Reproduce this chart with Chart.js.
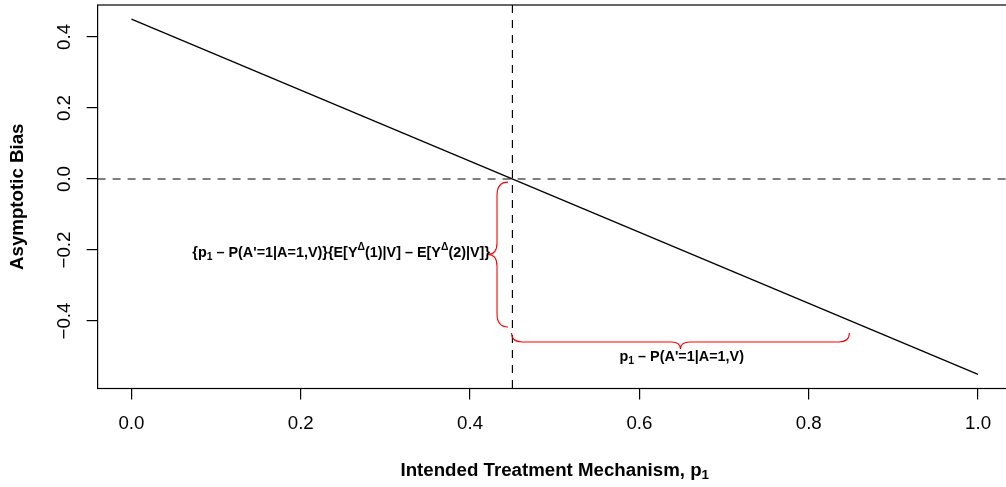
<!DOCTYPE html>
<html>
<head>
<meta charset="utf-8">
<script src="https://cdn.jsdelivr.net/npm/chart.js@4.4.1/dist/chart.umd.min.js"></script>
<style>
  html, body { margin: 0; padding: 0; background: #ffffff; overflow: hidden; }
  #wrap { width: 1020px; height: 487px; }
</style>
</head>
<body>
<div id="wrap"><canvas id="c" width="1020" height="487"></canvas></div>
<script>
// ---- data ----
const xValues = [0, 1];
const biasValues = [0.45, -0.55];
const xTicks = [0, 0.2, 0.4, 0.6, 0.8, 1.0];
const yTicks = [-0.4, -0.2, 0, 0.2, 0.4];
const xRange = [-0.04, 1.04];
const yRange = [-0.59, 0.49];
const refX = [0.45];
const refY = [0];
// vertical brace: x of ends, y top, y bottom, x of spine, x of tip
const vBrace = [0.4448, -0.0087, -0.4169, 0.4318, 0.4211];
// horizontal brace: y of ends, x left, x right, y of spine, y of tip
const hBrace = [-0.4338, 0.449, 0.848, -0.459, -0.479];
// annotation labels: [x, y(baseline)]
const label1Pos = [0.4235, -0.2206];
const label2Pos = [0.65, -0.5118];
const label1Parts = [
  {t: '{p'}, {t: '1', sub: true}, {t: ' \u2013 P(A\'=1|A=1,V)}{E[Y'}, {t: '\u0394', sup: true},
  {t: '(1)|V] \u2013 E[Y'}, {t: '\u0394', sup: true}, {t: '(2)|V]}'}
];
const label2Parts = [{t: 'p'}, {t: '1', sub: true}, {t: ' \u2013 P(A\'=1|A=1,V)'}];
const xTitleParts = [{t: 'Intended Treatment Mechanism, p'}, {t: '1', sub: true}];
const yTitle = 'Asymptotic Bias';

const FONT = '"Liberation Sans", Arial, Helvetica, sans-serif';

function drawRich(ctx, parts, x, y, align, size) {
  const fontN = 'bold ' + size + 'px ' + FONT;
  const fontS = 'bold ' + (size * 0.72) + 'px ' + FONT;
  let w = 0;
  const widths = parts.map(p => {
    ctx.font = (p.sub || p.sup) ? fontS : fontN;
    const m = ctx.measureText(p.t).width;
    w += m;
    return m;
  });
  let cx = align === 'right' ? x - w : (align === 'center' ? x - w / 2 : x);
  ctx.textAlign = 'left';
  ctx.textBaseline = 'alphabetic';
  parts.forEach((p, i) => {
    ctx.font = (p.sub || p.sup) ? fontS : fontN;
    const dy = p.sub ? 0.2 * size : (p.sup ? -0.5 * size : 0);
    ctx.fillText(p.t, cx, y + dy);
    cx += widths[i];
  });
}

function braceV(ctx, xs, ys, b) {
  const E = xs.getPixelForValue(b[0]);
  const Y1 = ys.getPixelForValue(b[1]);
  const Y2 = ys.getPixelForValue(b[2]);
  const S = xs.getPixelForValue(b[3]);
  const T = xs.getPixelForValue(b[4]);
  const Ym = (Y1 + Y2) / 2;
  const r1 = 1.2 * Math.abs(E - S);
  const r2 = 1.3 * Math.abs(S - T);
  ctx.beginPath();
  ctx.moveTo(E, Y1);
  ctx.quadraticCurveTo(S, Y1, S, Y1 + r1);
  ctx.lineTo(S, Ym - r2);
  ctx.quadraticCurveTo(S, Ym, T, Ym);
  ctx.quadraticCurveTo(S, Ym, S, Ym + r2);
  ctx.lineTo(S, Y2 - r1);
  ctx.quadraticCurveTo(S, Y2, E, Y2);
  ctx.stroke();
}

function braceH(ctx, xs, ys, b) {
  const E = ys.getPixelForValue(b[0]);
  const X1 = xs.getPixelForValue(b[1]);
  const X2 = xs.getPixelForValue(b[2]);
  const S = ys.getPixelForValue(b[3]);
  const T = ys.getPixelForValue(b[4]);
  const Xm = (X1 + X2) / 2;
  const r1 = 1.2 * Math.abs(E - S);
  const r2 = 1.3 * Math.abs(S - T);
  ctx.beginPath();
  ctx.moveTo(X1, E);
  ctx.quadraticCurveTo(X1, S, X1 + r1, S);
  ctx.lineTo(Xm - r2, S);
  ctx.quadraticCurveTo(Xm, S, Xm, T);
  ctx.quadraticCurveTo(Xm, S, Xm + r2, S);
  ctx.lineTo(X2 - r1, S);
  ctx.quadraticCurveTo(X2, S, X2, E);
  ctx.stroke();
}

const decorPlugin = {
  id: 'decor',
  beforeDatasetsDraw(chart) {
    const {ctx, chartArea: a, scales: {x, y}} = chart;
    ctx.save();
    ctx.beginPath();
    ctx.rect(a.left, a.top, a.right - a.left, a.bottom - a.top);
    ctx.clip();
    ctx.strokeStyle = '#000';
    ctx.lineWidth = 1.2;
    ctx.setLineDash([8, 7]);
    refX.forEach(v => {
      const px = x.getPixelForValue(v);
      ctx.beginPath(); ctx.moveTo(px, a.top); ctx.lineTo(px, a.bottom); ctx.stroke();
    });
    refY.forEach(v => {
      const py = y.getPixelForValue(v);
      ctx.beginPath(); ctx.moveTo(a.left, py); ctx.lineTo(a.right, py); ctx.stroke();
    });
    ctx.restore();
  },
  afterDraw(chart) {
    const {ctx, chartArea: a, scales: {x, y}} = chart;
    ctx.save();
    ctx.strokeStyle = '#000';
    ctx.lineWidth = 1.2;
    ctx.setLineDash([]);
    ctx.strokeRect(a.left, a.top, a.right - a.left, a.bottom - a.top);
    ctx.strokeStyle = '#ff0000';
    ctx.lineWidth = 1.1;
    braceV(ctx, x, y, vBrace);
    braceH(ctx, x, y, hBrace);
    ctx.fillStyle = '#000';
    drawRich(ctx, label1Parts, x.getPixelForValue(label1Pos[0]), y.getPixelForValue(label1Pos[1]), 'right', 14.4);
    drawRich(ctx, label2Parts, x.getPixelForValue(label2Pos[0]), y.getPixelForValue(label2Pos[1]), 'center', 14.4);
    drawRich(ctx, xTitleParts, (x.left + x.right) / 2, x.bottom - 11.5, 'center', 18.7);
    ctx.restore();
  }
};

const tickFont = {family: FONT, size: 18.7, lineHeight: 1.2};

new Chart(document.getElementById('c'), {
  type: 'scatter',
  data: {
    datasets: [{
      data: xValues.map((v, i) => ({x: v, y: biasValues[i]})),
      showLine: true,
      borderColor: '#000',
      borderWidth: 1.3,
      pointRadius: 0,
      fill: false
    }]
  },
  options: {
    responsive: false,
    animation: false,
    devicePixelRatio: 1,
    layout: {padding: {top: 5, right: 8.1, left: 0, bottom: 0}},
    plugins: {legend: {display: false}, tooltip: {enabled: false}},
    scales: {
      x: {
        type: 'linear',
        min: xRange[0], max: xRange[1],
        afterBuildTicks: s => { s.ticks = xTicks.map(v => ({value: v})); },
        afterFit: s => { s.height = 98.5; s.paddingLeft = 0; s.paddingRight = 0; },
        border: {display: false},
        grid: {display: true, drawOnChartArea: false, drawTicks: true, tickLength: 11, color: '#000', lineWidth: 1.2},
        ticks: {color: '#000', font: tickFont, padding: 13, maxRotation: 0, autoSkip: false,
          callback: v => v.toFixed(1)}
      },
      y: {
        type: 'linear',
        min: yRange[0], max: yRange[1],
        afterBuildTicks: s => { s.ticks = yTicks.map(v => ({value: v})); },
        afterFit: s => { s.width = 97.6; s.paddingTop = 0; s.paddingBottom = 0; },
        border: {display: false},
        grid: {display: true, drawOnChartArea: false, drawTicks: true, tickLength: 11, color: '#000', lineWidth: 1.2},
        ticks: {color: '#000', font: tickFont, padding: 3.4, minRotation: 90, maxRotation: 90,
          crossAlign: 'center', autoSkip: false,
          callback: v => (v < 0 ? '\u2212' : '') + Math.abs(v).toFixed(1)},
        title: {display: true, text: yTitle, color: '#000',
          font: {family: FONT, size: 18.7, weight: 'bold', lineHeight: 1.2},
          padding: {top: 7, bottom: 0}}
      }
    }
  },
  plugins: [decorPlugin]
});
</script>
</body>
</html>
